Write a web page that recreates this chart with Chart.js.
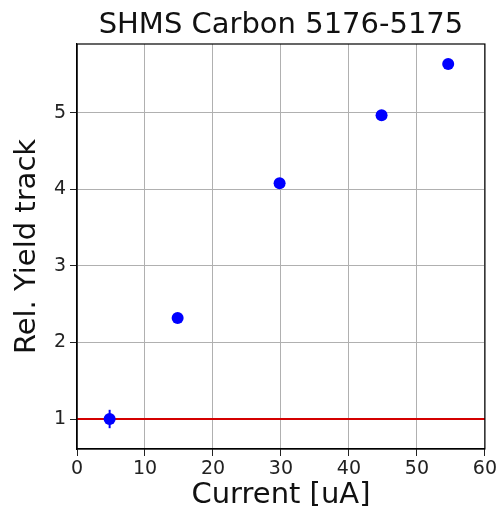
<!DOCTYPE html>
<html>
<head>
<meta charset="utf-8">
<script src="https://cdn.jsdelivr.net/npm/chart.js@4"></script>
<style>
  html, body { margin: 0; padding: 0; background: #fff; }
  #wrap { width: 499px; height: 513px; }
</style>
</head>
<body>
<div id="wrap"><canvas id="chart"></canvas></div>
<script>
const currents = [4.8, 14.8, 29.8, 44.8, 54.6];
const relYield = [1.0, 2.32, 4.08, 4.97, 5.64];
const yieldErr = [0.12, 0.0, 0.0, 0.0, 0.0];
const refLineX = [0, 60];
const refLineY = [1, 1];
const titleText = 'SHMS Carbon 5176-5175';

const font = "'DejaVu Sans', sans-serif";

// error bars, frame and title centred over the plot area
const extras = {
    id: 'extras',
    afterDatasetsDraw(chart) {
        const ctx = chart.ctx;
        const xs = chart.scales.x, ys = chart.scales.y;
        const a = chart.chartArea;
        ctx.save();
        ctx.strokeStyle = '#0000ff';
        ctx.lineWidth = 2;
        for (let i = 0; i < currents.length; i++) {
            if (!yieldErr[i]) continue;
            const px = xs.getPixelForValue(currents[i]);
            ctx.beginPath();
            ctx.moveTo(px, ys.getPixelForValue(relYield[i] - yieldErr[i]));
            ctx.lineTo(px, ys.getPixelForValue(relYield[i] + yieldErr[i]));
            ctx.stroke();
        }
        ctx.strokeStyle = '#000';
        ctx.lineWidth = 1.2;
        ctx.strokeRect(a.left, a.top, a.right - a.left, a.bottom - a.top);

        ctx.fillStyle = '#111';
        ctx.font = '29px ' + font;
        ctx.textAlign = 'center';
        ctx.textBaseline = 'alphabetic';
        ctx.fillText(titleText, (a.left + a.right) / 2, 33);
        ctx.restore();
    }
};

new Chart(document.getElementById('chart'), {
    type: 'scatter',
    data: {
        datasets: [
            {
                type: 'line',
                data: refLineX.map((x, i) => ({ x: x, y: refLineY[i] })),
                borderColor: '#d40000',
                borderWidth: 2,
                pointRadius: 0,
                order: 2
            },
            {
                data: currents.map((x, i) => ({ x: x, y: relYield[i] })),
                backgroundColor: '#0000ff',
                borderColor: '#0000ff',
                borderWidth: 0,
                pointRadius: 6,
                order: 1
            }
        ]
    },
    plugins: [extras],
    options: {
        responsive: true,
        maintainAspectRatio: false,
        animation: false,
        layout: { padding: { left: 0, right: 11, top: 44, bottom: 0 } },
        plugins: {
            legend: { display: false },
            tooltip: { enabled: false },
            title: { display: false }
        },
        scales: {
            x: {
                type: 'linear',
                min: 0, max: 60,
                ticks: { stepSize: 10, color: '#222', font: { family: font, size: 19 }, padding: 2 },
                grid: { color: '#b0b0b0', lineWidth: 1, tickLength: 7, tickColor: '#222' },
                border: { color: '#000', width: 1.2 },
                title: { display: true, text: 'Current [uA]', color: '#111', font: { family: font, size: 29 }, padding: { top: 0, bottom: 0 } },
                afterFit(s) { s.height = 64; }
            },
            y: {
                min: 0.608, max: 5.9,
                afterBuildTicks(s) { s.ticks = [1, 2, 3, 4, 5].map(v => ({ value: v })); },
                ticks: { color: '#222', font: { family: font, size: 19 }, padding: 4 },
                grid: { color: '#b0b0b0', lineWidth: 1, tickLength: 7, tickColor: '#222' },
                border: { color: '#000', width: 1.2 },
                title: { display: true, text: 'Rel. Yield track', color: '#111', font: { family: font, size: 29 }, padding: { top: 10, bottom: 0 } },
                afterFit(s) { s.width = 77; }
            }
        }
    }
});
</script>
</body>
</html>
